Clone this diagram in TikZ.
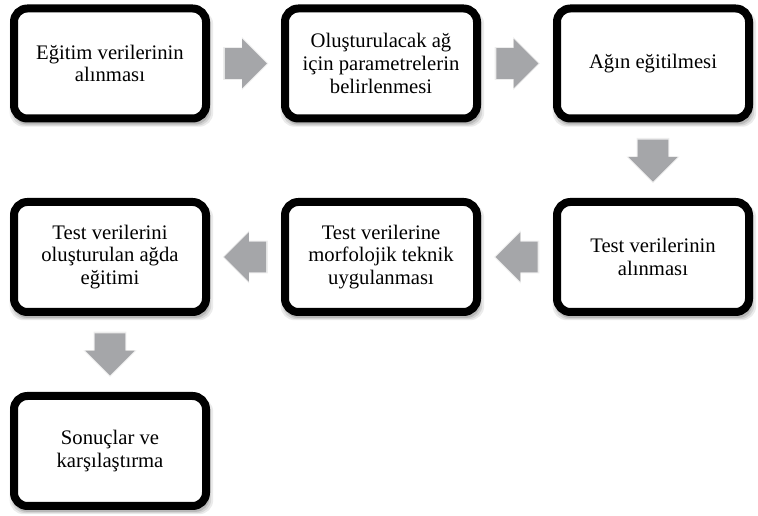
\documentclass[tikz,border=0pt]{standalone}
\usepackage{fontspec}
\setmainfont{Liberation Serif}
\usetikzlibrary{calc, positioning, shapes.arrows, shadows}
\definecolor{arrowgray}{RGB}{165,166,169}

\begin{document}
\begin{tikzpicture}[x=0.75pt, y=-0.75pt]

        % --- Définition des styles ---
        \tikzset{
            softshadow/.style={
                general shadow={fill=black!8, shadow xshift=1pt, shadow yshift=-3.5pt, shadow scale=1.06},
                general shadow={fill=black!17, shadow xshift=1pt, shadow yshift=-3.5pt, shadow scale=1.04},
                general shadow={fill=black!28, shadow xshift=1pt, shadow yshift=-3.5pt, shadow scale=1.02}
            },
            stepbox/.style={draw=black, line width=6pt, rounded corners=10pt, fill=white, softshadow,
                minimum width=144pt, minimum height=82.5pt, align=center,
                font=\fontsize{15.5}{17}\selectfont},
            flowarrow/.style={single arrow, anchor=tail, fill=arrowgray, draw=none, inner xsep=0pt, inner ysep=11.25pt,
                minimum height=31.5pt, single arrow head extend=7pt,
                general shadow={fill=black!7, shadow scale=1.08}}
        }

        \useasboundingbox (0,0) rectangle (758,516);

        % --- Boîtes ---
        \node[stepbox] (b1) at (110,63.5) {Eğitim verilerinin\\alınması};
        \node[stepbox] (b2) at (381,63.5) {Oluşturulacak ağ\\için parametrelerin\\belirlenmesi};
        \node[stepbox] (b3) at (653,63.5) {Ağın eğitilmesi};
        \node[stepbox] (b4) at (653,257) {Test verilerinin\\alınması};
        \node[stepbox] (b5) at (381,257) {Test verilerine\\morfolojik teknik\\uygulanması};
        \node[stepbox] (b6) at (110,257) {Test verilerini\\oluşturulan ağda\\eğitimi};
        \node[stepbox] (b7) at (110,451) {Sonuçlar ve\\karşılaştırma};

        % --- Flèches ---
        \node[flowarrow] (a1) at ($(b1.east)!0.5!(b2.west)+(-21,0)$) {};
        \node[flowarrow] (a2) at ($(b2.east)!0.5!(b3.west)+(-21,0)$) {};
        \node[flowarrow, rotate=-90] (a3) at ($(b3.south)!0.5!(b4.north)+(0,-21)$) {};
        \node[flowarrow, rotate=180] (a4) at ($(b4.west)!0.5!(b5.east)+(21,0)$) {};
        \node[flowarrow, rotate=180] (a5) at ($(b5.west)!0.5!(b6.east)+(21,0)$) {};
        \node[flowarrow, rotate=-90] (a6) at ($(b6.south)!0.5!(b7.north)+(0,-21)$) {};

\end{tikzpicture}
\end{document}
